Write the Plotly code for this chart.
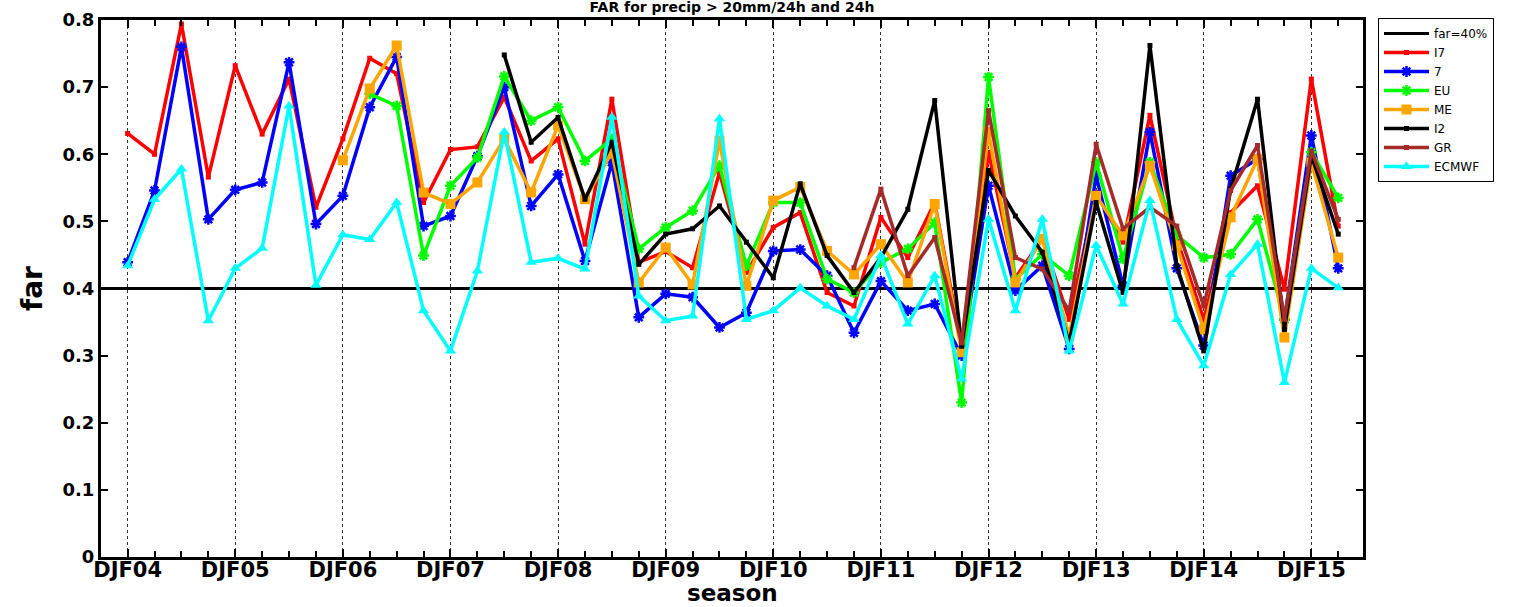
import plotly.graph_objects as go

# ---------------- data ----------------
YEAR_LABELS = ["DJF04", "DJF05", "DJF06", "DJF07", "DJF08", "DJF09",
               "DJF10", "DJF11", "DJF12", "DJF13", "DJF14", "DJF15"]
SEASONS_PER_YEAR = 4
N_SEASONS = 46
season_index = list(range(N_SEASONS))

FAR_THRESHOLD = 0.4

I7 = [0.631, 0.600, 0.794, 0.566, 0.732, 0.630, 0.712, 0.521, 0.623, 0.743,
      0.720, 0.528, 0.607, 0.611, 0.685, 0.590, 0.623, 0.466, 0.682, 0.439,
      0.455, 0.431, 0.573, 0.424, 0.491, 0.513, 0.394, 0.374, 0.506, 0.446,
      0.528, 0.314, 0.603, 0.416, 0.474, 0.354, 0.543, 0.469, 0.658, 0.474,
      0.354, 0.513, 0.553, 0.399, 0.712, 0.493]

S7 = [0.439, 0.546, 0.760, 0.503, 0.547, 0.558, 0.737, 0.496, 0.538, 0.670,
      0.745, 0.493, 0.508, 0.597, 0.700, 0.523, 0.570, 0.441, 0.588, 0.357,
      0.392, 0.387, 0.342, 0.364, 0.456, 0.458, 0.419, 0.334, 0.411, 0.367,
      0.377, 0.300, 0.553, 0.397, 0.434, 0.310, 0.568, 0.404, 0.633, 0.430,
      0.315, 0.568, 0.593, 0.354, 0.628, 0.430]

EU = [None, None, None, None, None, None, None, None, None, 0.690,
      0.672, 0.449, 0.553, 0.595, 0.716, 0.650, 0.670, 0.590, 0.623, 0.459,
      0.491, 0.516, 0.583, 0.434, 0.528, 0.528, 0.414, 0.394, 0.439, 0.459,
      0.498, 0.230, 0.715, 0.414, 0.451, 0.419, 0.588, 0.444, 0.588, 0.479,
      0.446, 0.451, 0.503, 0.354, 0.603, 0.535]

ME = [None, None, None, None, None, None, None, None, 0.591, 0.698,
      0.762, 0.543, 0.526, 0.558, 0.623, 0.543, 0.643, 0.533, 0.603, 0.409,
      0.461, 0.406, 0.620, 0.404, 0.531, 0.551, 0.456, 0.421, 0.466, 0.409,
      0.526, 0.305, 0.633, 0.409, 0.474, 0.329, 0.538, 0.479, 0.583, 0.464,
      0.339, 0.506, 0.593, 0.327, 0.588, 0.446]

I2 = [None, None, None, None, None, None, None, None, None, None,
      None, None, None, None, 0.748, 0.618, 0.655, 0.533, 0.618, 0.436,
      0.481, 0.489, 0.523, 0.469, 0.416, 0.556, 0.449, 0.394, 0.446, 0.518,
      0.680, 0.314, 0.576, 0.508, 0.454, 0.319, 0.528, 0.394, 0.762, 0.434,
      0.307, 0.548, 0.682, 0.339, 0.598, 0.481]

GR = [None, None, None, None, None, None, None, None, None, None,
      None, None, None, None, None, None, None, None, None, None,
      None, None, None, None, None, None, None, 0.431, 0.548, 0.419,
      0.476, 0.319, 0.665, 0.446, 0.429, 0.367, 0.615, 0.489, 0.521, 0.493,
      0.374, 0.546, 0.613, 0.354, 0.605, 0.503]

ECMWF = [0.434, 0.533, 0.578, 0.352, 0.430, 0.460, 0.672, 0.405, 0.480, 0.473,
         0.528, 0.367, 0.307, 0.426, 0.633, 0.439, 0.445, 0.429, 0.655, 0.389,
         0.352, 0.359, 0.653, 0.354, 0.367, 0.401, 0.374, 0.354, 0.449, 0.347,
         0.419, 0.265, 0.503, 0.367, 0.503, 0.307, 0.464, 0.377, 0.531, 0.354,
         0.285, 0.421, 0.466, 0.260, 0.430, 0.401]

SERIES = [
    ("I7", I7, "#ff0000", dict(symbol="square", size=5)),
    ("7", S7, "#0000ff", dict(symbol="asterisk-open", size=9, line=dict(width=2.5, color="#0000ff"))),
    ("EU", EU, "#00ff00", dict(symbol="asterisk-open", size=9, line=dict(width=2.5, color="#00ff00"))),
    ("ME", ME, "#ffa500", dict(symbol="square", size=10)),
    ("I2", I2, "#000000", dict(symbol="square", size=5)),
    ("GR", GR, "#a52a2a", dict(symbol="square", size=5)),
    ("ECMWF", ECMWF, "#00ffff", dict(symbol="triangle-up", size=10)),
]

# ---------------- figure ----------------
W, H = 1515, 607
PL, PR, PT, PB = 101, 1363, 20, 557
x_range = [-0.99, 45.92]
FONT = "DejaVu Sans"
plot_h = PB - PT

fig = go.Figure()

fig.add_trace(go.Scatter(
    x=x_range, y=[FAR_THRESHOLD, FAR_THRESHOLD], mode="lines",
    name="far=40%", line=dict(color="black", width=3),
))

for name, vals, color, marker in SERIES:
    fig.add_trace(go.Scatter(
        x=season_index, y=vals, mode="lines+markers", name=name,
        line=dict(color=color, width=3.5), marker=dict(color=color, **marker),
        connectgaps=False,
    ))

tickvals = [i * SEASONS_PER_YEAR for i in range(len(YEAR_LABELS))]

fig.update_layout(
    width=W, height=H,
    margin=dict(l=PL, r=W - PR, t=PT, b=H - PB, autoexpand=False),
    paper_bgcolor="white", plot_bgcolor="white",
    font=dict(family=FONT, color="black"),
    title=dict(text="<b>FAR for precip > 20mm/24h and 24h</b>", x=(PL + PR) / 2 / W,
               xanchor="center", yref="container", y=1 - 2 / H, yanchor="top",
               pad=dict(t=0, b=0), font=dict(size=14, family=FONT)),
    showlegend=True,
    legend=dict(
        xref="container", yref="container", x=1378 / W, y=1 - 18 / H,
        xanchor="left", yanchor="top", itemwidth=45,
        bgcolor="white", bordercolor="black", borderwidth=1,
        font=dict(size=12, family=FONT), tracegroupgap=0,
    ),
    annotations=[dict(
        text="<b>season</b>", xref="paper", yref="paper",
        x=0.5, y=-(H - PB) / plot_h, xanchor="center", yanchor="bottom",
        showarrow=False, font=dict(size=23, family=FONT), borderpad=0,
    )],
)

fig.update_xaxes(
    range=x_range, tickmode="array", tickvals=tickvals,
    ticktext=["<b>%s</b>" % t for t in YEAR_LABELS],
    ticks="inside", ticklen=8, tickwidth=2, tickcolor="black",
    minor=dict(dtick=1, tick0=0, ticks="inside", ticklen=6, tickwidth=2, tickcolor="black", showgrid=False),
    showgrid=True, gridcolor="#333333", gridwidth=1, griddash="dot",
    showline=True, linecolor="black", linewidth=3, mirror="ticks",
    zeroline=False, automargin=False, ticklabelstandoff=-8,
    tickfont=dict(size=21, family=FONT),
)
fig.update_yaxes(
    range=[0, 0.8], tickmode="array",
    tickvals=[0, 0.1, 0.2, 0.3, 0.4, 0.5, 0.6, 0.7, 0.8],
    ticktext=["<b>0</b>", "<b>0.1</b>", "<b>0.2</b>", "<b>0.3</b>", "<b>0.4</b>",
              "<b>0.5</b>", "<b>0.6</b>", "<b>0.7</b>", "<b>0.8</b>"],
    ticks="inside", ticklen=7, tickwidth=2, tickcolor="black",
    showgrid=False, zeroline=False, automargin=False,
    showline=True, linecolor="black", linewidth=3, mirror="ticks",
    tickfont=dict(size=18, family=FONT),
    title=dict(text="<b>far</b>", font=dict(size=28, family=FONT), standoff=12),
)

fig.write_html(
    "out.html",
    config={"displayModeBar": False},
    post_script="document.body.style.margin='0';document.body.style.padding='0';",
)
